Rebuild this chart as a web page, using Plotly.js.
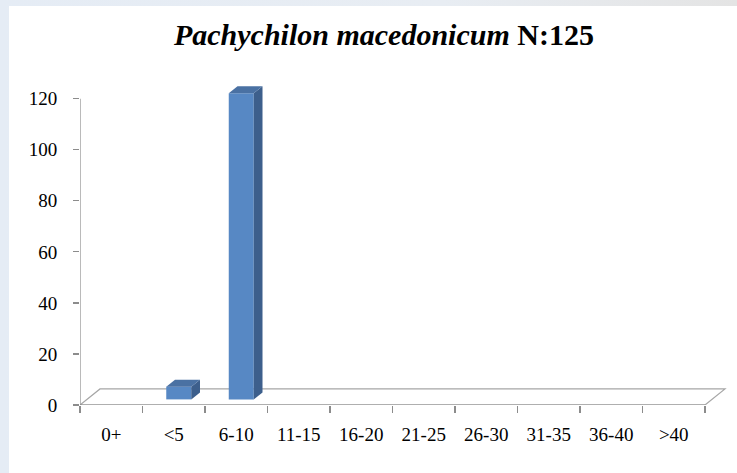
<!DOCTYPE html>
<html>
<head>
<meta charset="utf-8">
<script src="https://cdn.plot.ly/plotly-3.0.1.min.js"></script>
<style>
  html, body { margin: 0; padding: 0; }
  body { width: 737px; height: 473px; overflow: hidden;
         background: linear-gradient(to right, #e5ecf5 0%, #e8edf3 60%, #e4e4e4 100%); position: relative; }
  #chart { position: absolute; left: 9px; top: 6px; width: 728px; height: 467px; background: #ffffff; }
</style>
</head>
<body>
<div id="chart"></div>
<script>
// ---- data ----
const categories = ['0+', '<5', '6-10', '11-15', '16-20', '21-25', '26-30', '31-35', '36-40', '>40'];
const counts = [0, 5, 120, 0, 0, 0, 0, 0, 0, 0];
const speciesName = 'Pachychilon macedonicum';
const sampleSize = 125;
const yTickValues = [0, 20, 40, 60, 80, 100, 120];

// ---- 3D-look styling (pseudo depth in axis units) ----
const barWidth = 0.4;      // category units
const barShift = 0.08;     // shift of front face to the right (category units)
const barLift = 2.2;       // bar base above floor front edge (y units)
const depthX = 0.14;       // bar depth, horizontal (category units)
const depthY = 2.7;        // bar depth, vertical (y units)
const floorDX = 0.32;      // floor depth, horizontal
const floorDY = 6.3;       // floor depth, vertical
const frontColor = '#5788c4';
const sideColor = '#3d5f8c';
const topColor = '#4a71a3';
const gridColor = '#8c8c8c';
const serif = 'Liberation Serif';

const shapes = [];
const nCat = categories.length;
const xL = -0.5, xR = nCat - 0.5;
const yMax = yTickValues[yTickValues.length - 1];

// floor (parallelogram)
shapes.push({
  type: 'path', xref: 'x', yref: 'y', layer: 'below',
  path: `M ${xL} 0 L ${xR} 0 L ${xR + floorDX} ${floorDY} L ${xL + floorDX} ${floorDY} Z`,
  line: { color: '#a6a6a6', width: 1.2 }, fillcolor: '#ffffff'
});
// y axis line
shapes.push({
  type: 'line', xref: 'x', yref: 'y', layer: 'above',
  x0: xL, x1: xL, y0: 0, y1: yMax,
  line: { color: gridColor, width: 1.2 }
});
// x axis line (floor front edge)
shapes.push({
  type: 'line', xref: 'x', yref: 'y', layer: 'above',
  x0: xL, x1: xR, y0: 0, y1: 0,
  line: { color: gridColor, width: 1.2 }
});

// side and top faces for each non-zero bar
counts.forEach((v, i) => {
  if (v <= 0) return;
  const x0 = i - barWidth / 2 + barShift;
  const x1 = x0 + barWidth;
  const b = barLift;
  const t = barLift + v;
  shapes.push({
    type: 'path', xref: 'x', yref: 'y', layer: 'above',
    path: `M ${x1} ${b} L ${x1 + depthX} ${b + depthY} L ${x1 + depthX} ${t + depthY} L ${x1} ${t} Z`,
    fillcolor: sideColor, line: { width: 0 }
  });
  shapes.push({
    type: 'path', xref: 'x', yref: 'y', layer: 'above',
    path: `M ${x0} ${t} L ${x0 + depthX} ${t + depthY} L ${x1 + depthX} ${t + depthY} L ${x1} ${t} Z`,
    fillcolor: topColor, line: { width: 0 }
  });
});

const trace = {
  type: 'bar',
  x: categories,
  y: counts,
  base: counts.map(() => barLift),
  width: barWidth,
  offset: -barWidth / 2 + barShift,
  marker: { color: frontColor, line: { width: 0 } },
  hoverinfo: 'x+y'
};

const layout = {
  width: 728, height: 467,
  paper_bgcolor: '#ffffff', plot_bgcolor: 'rgba(0,0,0,0)',
  margin: { l: 71, r: 7, t: 80, b: 68 },
  showlegend: false,
  title: {
    text: `<b><i>${speciesName}</i> N:${sampleSize}</b>`,
    font: { family: serif, size: 30, color: '#000000' },
    x: 0.515, xref: 'container', xanchor: 'center',
    y: 0.94, yref: 'container', yanchor: 'middle'
  },
  xaxis: {
    type: 'category',
    range: [xL, xR + 0.4],
    tickson: 'boundaries',
    ticks: 'outside', ticklen: 7, tickwidth: 1.2, tickcolor: gridColor,
    showline: false, showgrid: false, zeroline: false,
    tickfont: { family: serif, size: 19, color: '#000000' },
    ticklabelstandoff: 16,
    fixedrange: true
  },
  yaxis: {
    range: [0, 125],
    tickvals: yTickValues,
    ticks: 'outside', ticklen: 6, tickwidth: 1.2, tickcolor: gridColor,
    showline: false, showgrid: false, zeroline: false,
    tickfont: { family: serif, size: 19, color: '#000000' },
    ticklabelstandoff: 12,
    fixedrange: true
  },
  shapes: shapes
};

Plotly.newPlot('chart', [trace], layout, { displayModeBar: false, staticPlot: true });
</script>
</body>
</html>
